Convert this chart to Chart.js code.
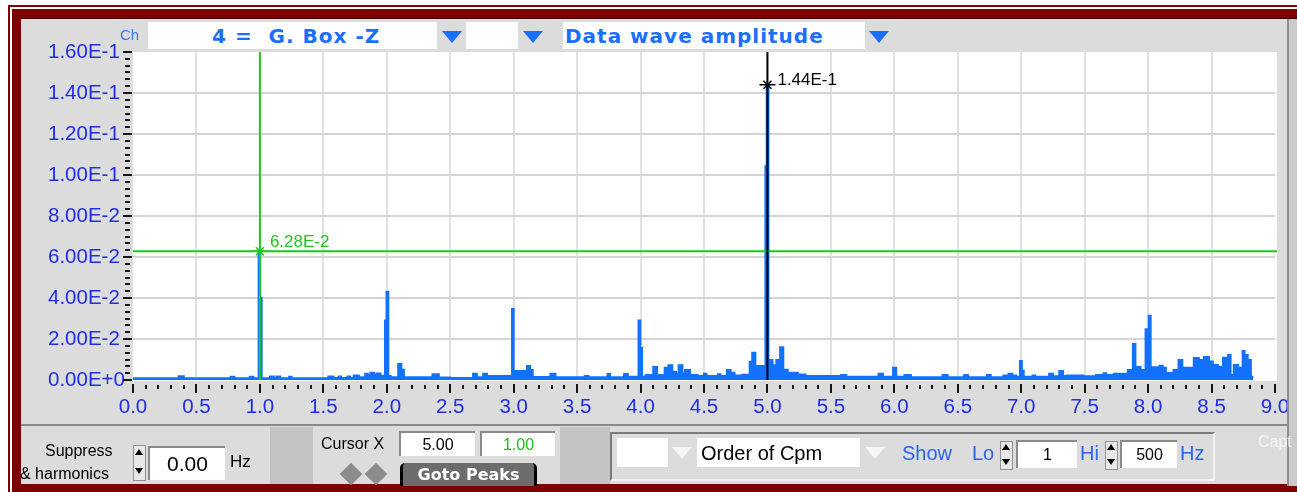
<!DOCTYPE html>
<html>
<head>
<meta charset="utf-8">
<script src="https://cdn.jsdelivr.net/npm/chart.js@4.4.1/dist/chart.umd.min.js"></script>
<style>
  html, body { margin: 0; padding: 0; background: #ffffff; }
  #stage { position: relative; width: 1297px; height: 492px; overflow: hidden;
           font-family: "Liberation Sans", Arial, sans-serif; }
  .abs { position: absolute; }
  .box { position: absolute; background: #ffffff; }
  .tri { position: absolute; width: 0; height: 0; border-left: 10px solid transparent;
         border-right: 10px solid transparent; border-top: 12px solid #1a6fff; }
  .tri.off { border-top-color: #f6f6f6; }
  .bold { font-family: "DejaVu Sans", Verdana, sans-serif; font-weight: bold; color: #1a6fff;
          font-size: 20px; letter-spacing: 1px; white-space: pre; line-height: 26px; }
  .lbl { position: absolute; white-space: pre; line-height: 20px; }
  .spin { position: absolute; width: 11px; background: #e8e8e8; border: 1px solid #909090; }
  .spin .u, .spin .d { position: absolute; left: 1px; width: 0; height: 0;
          border-left: 4px solid transparent; border-right: 4px solid transparent; }
  .spin .u { border-bottom: 6px solid #000; }
  .spin .d { border-top: 6px solid #000; }
  .field { position: absolute; background: #fff; border-top: 2px solid #8a8a8a;
           border-left: 2px solid #8a8a8a; text-align: center; color: #000; }
  .dia { position: absolute; width: 16px; height: 16px; background: #8c8c8c; transform: rotate(45deg); }
  canvas { position: absolute; left: 0; top: 0; }
</style>
</head>
<body>
<div id="stage">
  <!-- window frame -->
  <div class="abs" style="left:8px;top:5px;width:1289px;height:487px;background:#7c0000;"></div>
  <div class="abs" style="left:10px;top:7px;width:1287px;height:2px;background:#ffffff;"></div>
  <div class="abs" style="left:10px;top:7px;width:2px;height:485px;background:#ffffff;"></div>
  <div class="abs" style="left:20px;top:18px;width:1277px;height:1px;background:#3a0000;"></div>
  <div class="abs" style="left:21px;top:19px;width:1266px;height:465px;background:#dcdcdc;"></div>

  <canvas id="spectrum" width="1297" height="492"></canvas>

  <!-- right edge of the panel -->
  <div class="abs" style="left:1287px;top:19px;width:2px;height:467px;background:#8e8e8e;"></div>
  <div class="abs" style="left:1289px;top:19px;width:8px;height:467px;background:#cbcbcb;"></div>

  <!-- channel header -->
  <div class="lbl" style="left:120px;top:25px;font-size:15px;color:#3b7af2;">Ch</div>
  <div class="box" style="left:148px;top:22px;width:289px;height:27px;"></div>
  <div class="abs bold" style="left:212px;top:23px;">4 =  G. Box -Z</div>
  <div class="tri" style="left:442px;top:31px;"></div>
  <div class="box" style="left:466px;top:22px;width:52px;height:27px;"></div>
  <div class="tri" style="left:523px;top:31px;"></div>
  <div class="box" style="left:563px;top:22px;width:302px;height:27px;"></div>
  <div class="abs bold" style="left:565px;top:23px;">Data wave amplitude</div>
  <div class="tri" style="left:869px;top:31px;"></div>

  <!-- lower control strip -->
  <div class="abs" style="left:21px;top:424px;width:1266px;height:2px;background:#8a8a8a;"></div>
  <div class="abs" style="left:270px;top:427px;width:43px;height:57px;background:#c4c4c4;"></div>
  <div class="abs" style="left:560px;top:427px;width:50px;height:57px;background:#c4c4c4;"></div>

  <div class="lbl" style="left:45px;top:441px;font-size:16px;">Suppress</div>
  <div class="lbl" style="left:20px;top:464px;font-size:16px;">&amp; harmonics</div>
  <div class="spin" style="left:133px;top:445px;height:34px;"><div class="u" style="top:3px"></div><div class="d" style="top:22px"></div></div>
  <div class="field" style="left:148px;top:446px;width:75px;height:32px;font-size:21px;line-height:32px;">0.00</div>
  <div class="lbl" style="left:230px;top:452px;font-size:17px;">Hz</div>

  <div class="lbl" style="left:321px;top:434px;font-size:16px;">Cursor X</div>
  <div class="field" style="left:399px;top:431px;width:74px;height:23px;font-size:16px;line-height:23px;" id="cursorA"></div>
  <div class="field" style="left:480px;top:431px;width:73px;height:23px;font-size:16px;line-height:23px;color:#18c018;" id="cursorB"></div>
  <div class="dia" style="left:343px;top:466px;"></div>
  <div class="dia" style="left:368px;top:466px;"></div>
  <div class="abs" style="left:400px;top:463px;width:131px;height:23px;background:#6c6c6c;border-left:3px solid #000;border-right:3px solid #000;border-radius:5px 5px 0 0;"></div>
  <div class="lbl" style="left:403px;top:465px;width:131px;text-align:center;font-family:'DejaVu Sans',Verdana,sans-serif;font-weight:bold;font-size:16px;color:#ffffff;">Goto Peaks</div>

  <div class="abs" style="left:610px;top:432px;width:601px;height:45px;border-top:2px solid #7a7a7a;border-left:2px solid #7a7a7a;border-right:2px solid #f2f2f2;border-bottom:2px solid #f2f2f2;"></div>
  <div class="box" style="left:617px;top:438px;width:51px;height:29px;"></div>
  <div class="tri off" style="left:672px;top:447px;"></div>
  <div class="box" style="left:697px;top:438px;width:163px;height:29px;"></div>
  <div class="lbl" style="left:701px;top:443px;font-size:20px;">Order of Cpm</div>
  <div class="tri off" style="left:865px;top:447px;"></div>
  <div class="lbl" style="left:902px;top:443px;font-size:20px;color:#2a64f0;">Show</div>
  <div class="lbl" style="left:972px;top:443px;font-size:20px;color:#2a64f0;">Lo</div>
  <div class="spin" style="left:1000px;top:441px;height:27px;"><div class="u" style="top:2px"></div><div class="d" style="top:17px"></div></div>
  <div class="field" style="left:1016px;top:440px;width:59px;height:26px;font-size:16px;line-height:26px;">1</div>
  <div class="lbl" style="left:1080px;top:443px;font-size:20px;color:#2a64f0;">Hi</div>
  <div class="spin" style="left:1105px;top:441px;height:27px;"><div class="u" style="top:2px"></div><div class="d" style="top:17px"></div></div>
  <div class="field" style="left:1120px;top:440px;width:55px;height:26px;font-size:16px;line-height:26px;">500</div>
  <div class="lbl" style="left:1180px;top:443px;font-size:20px;color:#2a64f0;">Hz</div>
  <div class="lbl" style="left:1258px;top:432px;font-size:16px;color:#f4f4f4;">Capt</div>
</div>

<script>
// Amplitude spectrum of channel 4 (G. Box -Z), stepped: each amplitude holds from its frequency to the next one.
const spectrumFreq = [
  0.00, 0.36, 0.40, 0.77, 0.80, 0.92, 0.95, 0.990, 1.002, 1.014,
  1.08, 1.11, 1.13, 1.16, 1.23, 1.25, 1.54, 1.58, 1.62, 1.64,
  1.69, 1.71, 1.74, 1.78, 1.83, 1.85, 1.87, 1.90, 1.92, 1.95,
  1.97, 1.986, 1.998, 2.012, 2.03, 2.09, 2.115, 2.135, 2.36, 2.41,
  2.50, 2.68, 2.71, 2.76, 2.79, 2.987, 3.000, 3.105, 3.13, 3.15,
  3.29, 3.33, 3.56, 3.59, 3.74, 3.76, 3.87, 3.90, 3.984, 3.998,
  4.012, 4.04, 4.10, 4.13, 4.19, 4.22, 4.25, 4.28, 4.30, 4.33,
  4.35, 4.39, 4.45, 4.50, 4.52, 4.61, 4.63, 4.68, 4.71, 4.72,
  4.74, 4.80, 4.86, 4.88, 4.905, 4.97, 4.984, 4.994, 5.008, 5.04,
  5.07, 5.10, 5.125, 5.16, 5.24, 5.30, 5.58, 5.62, 5.875, 5.91,
  5.99, 6.015, 6.08, 6.13, 6.38, 6.42, 6.55, 6.58, 6.73, 6.76,
  6.86, 6.90, 6.93, 6.96, 6.99, 7.005, 7.02, 7.09, 7.11, 7.22,
  7.25, 7.30, 7.33, 7.36, 7.49, 7.59, 7.65, 7.67, 7.73, 7.84,
  7.88, 7.90, 7.94, 7.98, 8.005, 8.02, 8.09, 8.115, 8.14, 8.20,
  8.24, 8.27, 8.36, 8.40, 8.44, 8.48, 8.51, 8.55, 8.59, 8.63,
  8.65, 8.675, 8.71, 8.745, 8.76, 8.785, 8.81, 8.83
];
const spectrumAmp = [
  0.0008, 0.0018, 0.0008, 0.0016, 0.0008, 0.0016, 0.0008, 0.0628, 0.0400, 0.0009,
  0.0017, 0.0010, 0.0017, 0.0009, 0.0016, 0.0009, 0.0017, 0.0010, 0.0017, 0.0010,
  0.0017, 0.0011, 0.0022, 0.0013, 0.0031, 0.0023, 0.0035, 0.0026, 0.0032, 0.0021,
  0.0013, 0.0290, 0.0430, 0.0020, 0.0013, 0.0078, 0.0050, 0.0013, 0.0028, 0.0012,
  0.0010, 0.0031, 0.0013, 0.0031, 0.0019, 0.0346, 0.0044, 0.0068, 0.0049, 0.0015,
  0.0031, 0.0013, 0.0019, 0.0013, 0.0029, 0.0014, 0.0029, 0.0016, 0.0290, 0.0156,
  0.0016, 0.0024, 0.0064, 0.0025, 0.0060, 0.0072, 0.0040, 0.0030, 0.0072, 0.0030,
  0.0049, 0.0025, 0.0019, 0.0030, 0.0019, 0.0028, 0.0019, 0.0049, 0.0025, 0.0035,
  0.0022, 0.0026, 0.0089, 0.0133, 0.0068, 0.0045, 0.1044, 0.1440, 0.0098, 0.0072,
  0.0098, 0.0160, 0.0050, 0.0035, 0.0027, 0.0019, 0.0025, 0.0016, 0.0031, 0.0016,
  0.0060, 0.0016, 0.0024, 0.0014, 0.0024, 0.0014, 0.0024, 0.0014, 0.0024, 0.0014,
  0.0022, 0.0030, 0.0022, 0.0016, 0.0093, 0.0045, 0.0016, 0.0022, 0.0016, 0.0030,
  0.0018, 0.0044, 0.0020, 0.0022, 0.0018, 0.0025, 0.0033, 0.0025, 0.0030, 0.0049,
  0.0176, 0.0063, 0.0049, 0.0248, 0.0314, 0.0062, 0.0070, 0.0060, 0.0034, 0.0049,
  0.0098, 0.0060, 0.0107, 0.0098, 0.0112, 0.0090, 0.0073, 0.0065, 0.0109, 0.0122,
  0.0024, 0.0073, 0.0060, 0.0141, 0.0122, 0.0098, 0.0016, 0.0016
];

// Axis ranges and tick spacing (Hz / amplitude)
const xRange = [0, 9];
const xMajorStep = 0.5;
const xMinorStep = 0.1;
const yRange = [0, 0.16];
const yMajorStep = 0.02;
const yMinorPerMajor = 6;

// Reference cursor (green) and active cursor (black) frequencies
const cursorFreq = [1.00, 5.00];
const cursorColor = ['#1ec81e', '#000000'];

const BLUE = '#1272ff';
const AXIS_BLUE = '#1f2ee4';
const AXIS_FONT = { family: "'Liberation Sans', Arial, sans-serif", size: 20.5 };

function expLabel(v) {
  return Number(v).toExponential(2).toUpperCase();
}
function ampAt(freq) {
  let a = spectrumAmp[0];
  for (let i = 0; i < spectrumFreq.length; i++) {
    if (spectrumFreq[i] <= freq + 1e-9) a = spectrumAmp[i];
  }
  return a;
}

document.getElementById('cursorA').textContent = cursorFreq[1].toFixed(2);
document.getElementById('cursorB').textContent = cursorFreq[0].toFixed(2);

const plotBackground = {
  id: 'plotBackground',
  beforeDraw(chart) {
    const { ctx, chartArea: a } = chart;
    ctx.save();
    ctx.fillStyle = '#ffffff';
    ctx.fillRect(a.left, a.top, a.right - a.left + 2, a.bottom - a.top + 1);
    ctx.restore();
  }
};

const axisTicks = {
  id: 'axisTicks',
  afterDraw(chart) {
    const { ctx, chartArea: a, scales } = chart;
    const xs = scales.x, ys = scales.y;
    ctx.save();
    ctx.fillStyle = '#141414';
    const nx = Math.round((xRange[1] - xRange[0]) / xMinorStep);
    const perMajor = Math.round(xMajorStep / xMinorStep);
    for (let i = 0; i <= nx; i++) {
      const px = Math.round(xs.getPixelForValue(xRange[0] + i * xMinorStep));
      if (i % perMajor === 0) ctx.fillRect(px - 1, a.bottom + 4, 2, 9);
      else ctx.fillRect(px - 1, a.bottom + 5, 2, 4);
    }
    const minorStep = yMajorStep / yMinorPerMajor;
    const ny = Math.round((yRange[1] - yRange[0]) / minorStep);
    for (let j = 0; j <= ny; j++) {
      const py = Math.round(ys.getPixelForValue(yRange[0] + j * minorStep));
      if (j % yMinorPerMajor === 0) ctx.fillRect(a.left - 10, py - 1, 9, 2);
      else ctx.fillRect(a.left - 8, py - 1, 5, 2);
    }
    ctx.restore();
  }
};

const cursors = {
  id: 'cursors',
  afterDatasetsDraw(chart) {
    const { ctx, chartArea: a, scales } = chart;
    const xs = scales.x, ys = scales.y;
    ctx.save();
    cursorFreq.forEach((f, k) => {
      const amp = ampAt(f);
      const px = xs.getPixelForValue(f);
      const py = ys.getPixelForValue(amp);
      ctx.strokeStyle = cursorColor[k];
      ctx.lineWidth = 2;
      ctx.beginPath();
      ctx.moveTo(px, a.top);
      ctx.lineTo(px, a.bottom);
      if (k === 0) {
        ctx.moveTo(a.left, py);
        ctx.lineTo(a.right + 2, py);
      }
      ctx.stroke();
      // star marker at the cursor reading
      ctx.lineWidth = 1.5;
      ctx.beginPath();
      ctx.moveTo(px - 4, py - 4); ctx.lineTo(px + 4, py + 4);
      ctx.moveTo(px + 4, py - 4); ctx.lineTo(px - 4, py + 4);
      ctx.moveTo(px - 8, py); ctx.lineTo(px + 8, py);
      ctx.stroke();
      ctx.fillStyle = cursorColor[k];
      ctx.font = "17px 'Liberation Sans', Arial, sans-serif";
      ctx.textBaseline = 'alphabetic';
      ctx.textAlign = 'left';
      ctx.fillText(expLabel(amp), px + 10, k === 0 ? py - 4 : py);
    });
    ctx.restore();
  }
};

const hideEdges = (edges) => (c) => {
  const v = c.tick ? c.tick.value : null;
  return edges.some(e => Math.abs(v - e) < 1e-9) ? 'rgba(0,0,0,0)' : null;
};

new Chart(document.getElementById('spectrum'), {
  type: 'line',
  data: {
    datasets: [{
      data: spectrumFreq.map((f, i) => ({ x: f, y: spectrumAmp[i] })),
      stepped: 'before',
      borderColor: BLUE,
      backgroundColor: BLUE,
      borderWidth: 2,
      fill: 'origin',
      pointRadius: 0,
      tension: 0
    }]
  },
  options: {
    responsive: false,
    devicePixelRatio: 1,
    animation: false,
    events: [],
    layout: { padding: { left: 48, top: 52, right: 22, bottom: 68 } },
    plugins: { legend: { display: false }, tooltip: { enabled: false } },
    scales: {
      x: {
        type: 'linear',
        min: xRange[0], max: xRange[1],
        border: { display: false },
        grid: {
          drawTicks: false,
          lineWidth: 2,
          color: (c) => hideEdges(xRange)(c) || '#e3e0e3'
        },
        ticks: {
          stepSize: xMajorStep,
          autoSkip: false,
          maxRotation: 0,
          padding: 15,
          color: AXIS_BLUE,
          font: AXIS_FONT,
          callback: (v) => Number(v).toFixed(1)
        },
        afterFit: (s) => { s.height = 44; s.paddingLeft = 0; s.paddingRight = 0; }
      },
      y: {
        type: 'linear',
        min: yRange[0], max: yRange[1],
        border: { display: false },
        grid: {
          drawTicks: false,
          lineWidth: 2,
          color: (c) => hideEdges(yRange)(c) || '#d9d1d9'
        },
        ticks: {
          stepSize: yMajorStep,
          crossAlign: 'far',
          padding: 0,
          color: AXIS_BLUE,
          font: AXIS_FONT,
          callback: (v) => expLabel(v)
        },
        afterFit: (s) => { s.width = 85; s.paddingTop = 0; s.paddingBottom = 0; }
      }
    }
  },
  plugins: [plotBackground, axisTicks, cursors]
});
</script>
</body>
</html>
